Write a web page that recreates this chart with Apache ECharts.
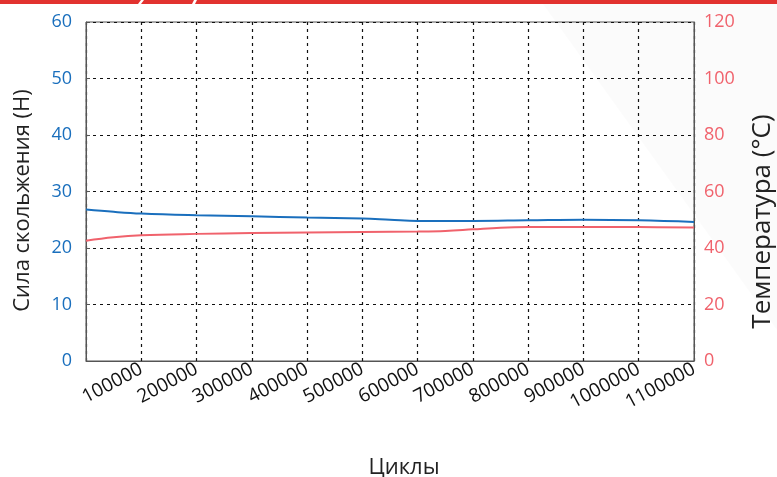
<!DOCTYPE html>
<html>
<head>
<meta charset="utf-8">
<script src="https://cdn.jsdelivr.net/npm/echarts@6/dist/echarts.min.js"></script>
<style>
  html, body { margin: 0; padding: 0; background: #fff; }
  #chart { width: 777px; height: 477px; }
</style>
</head>
<body>
<div id="chart"></div>
<script>
// данные графика
var cycles = [0, 50000, 100000, 200000, 300000, 400000, 500000, 550000, 600000, 700000, 800000, 900000, 1000000, 1100000];
var force = [26.8, 26.4, 26.1, 25.8, 25.6, 25.4, 25.2, 25.0, 24.8, 24.8, 24.9, 25.0, 24.9, 24.6];

var tempCycles = [0, 50000, 100000, 200000, 300000, 400000, 500000, 600000, 650000, 700000, 750000, 800000, 900000, 1000000, 1100000];
var temperature = [42.6, 43.8, 44.5, 45.0, 45.3, 45.5, 45.7, 45.8, 46.0, 46.6, 47.2, 47.4, 47.4, 47.4, 47.3];

var forceTicks = [0, 10, 20, 30, 40, 50, 60];
var tempTicks = [0, 20, 40, 60, 80, 100, 120];

var blue = "#1a6fbd";
var red = "#f0626c";
var font = "'Open Sans', 'Noto Sans', sans-serif";

var chart = echarts.init(document.getElementById("chart"), null, { renderer: "canvas" });

function pairs(xs, ys) {
  return xs.map(function (x, i) { return [x, ys[i]]; });
}

var option = {
  animation: false,
  backgroundColor: "#fff",
  graphic: [
    // светлая диагональная подложка справа
    {
      type: "polygon",
      z: -10,
      shape: { points: [[540, 0], [777, 0], [777, 330]] },
      style: { fill: "rgba(0,0,0,0.015)" }
    },
    // красная полоса сверху
    {
      type: "polygon",
      shape: { points: [[0, 0], [141, 0], [138, 4], [0, 4]] },
      style: { fill: "#e2322f" }
    },
    {
      type: "polygon",
      shape: { points: [[144, 0], [194, 0], [192, 4], [141, 4]] },
      style: { fill: "#e2322f" }
    },
    {
      type: "polygon",
      shape: { points: [[197, 0], [777, 0], [777, 4], [195, 4]] },
      style: { fill: "#e2322f" }
    }
  ],
  grid: {
    left: 86,
    right: 83,
    top: 22,
    bottom: 116,
    outerBoundsMode: "none",
    containLabel: false,
    show: true,
    borderColor: "#555",
    borderWidth: 1,
    backgroundColor: "transparent"
  },
  xAxis: {
    type: "value",
    min: 0,
    max: 1100000,
    interval: 100000,
    name: "Циклы",
    nameLocation: "middle",
    nameGap: 96,
    nameTextStyle: { color: "#222", fontSize: 22, fontFamily: font, padding: [0, 0, 0, 28] },
    axisLine: { show: true, lineStyle: { color: "#555" } },
    axisTick: { show: false },
    axisLabel: {
      rotate: 28,
      color: "#111",
      fontSize: 19,
      fontFamily: font,
      margin: 7,
      formatter: function (v) { return v === 0 ? "" : String(v); }
    },
    splitLine: { show: true, lineStyle: { color: "#111", type: [3, 4], width: 1.2 } }
  },
  yAxis: [
    {
      type: "value",
      min: 0,
      max: 60,
      interval: 10,
      position: "left",
      name: "Сила скольжения (Н)",
      nameLocation: "middle",
      nameGap: 52,
      nameTextStyle: { color: "#222", fontSize: 22, fontFamily: font, padding: [0, 18, 0, 0] },
      axisLine: { show: true, lineStyle: { color: "#555" } },
      axisTick: { show: true, inside: true, length: 4, lineStyle: { color: "#555" } },
      axisLabel: {
        color: blue,
        fontSize: 18,
        fontFamily: font,
        margin: 14,
        customValues: forceTicks
      },
      splitLine: { show: true, lineStyle: { color: "#111", type: [3, 4], width: 1.2 } }
    },
    {
      type: "value",
      min: 0,
      max: 120,
      interval: 20,
      position: "right",
      name: "Температура (°C)",
      nameLocation: "middle",
      nameGap: 56,
      nameRotate: 90,
      nameTextStyle: { color: "#222", fontSize: 26, fontFamily: font, padding: [0, 60, 0, 0] },
      axisLine: { show: true, lineStyle: { color: "#555" } },
      axisTick: { show: false },
      axisLabel: {
        color: red,
        fontSize: 18,
        fontFamily: font,
        margin: 10,
        customValues: tempTicks
      },
      splitLine: { show: false }
    }
  ],
  series: [
    {
      name: "Сила скольжения",
      type: "line",
      yAxisIndex: 0,
      smooth: 0.4,
      showSymbol: false,
      data: pairs(cycles, force),
      lineStyle: { color: blue, width: 2 },
      z: 3
    },
    {
      name: "Температура",
      type: "line",
      yAxisIndex: 1,
      smooth: 0.4,
      showSymbol: false,
      data: pairs(tempCycles, temperature),
      lineStyle: { color: red, width: 2 },
      z: 3
    }
  ]
};

chart.setOption(option);
</script>
</body>
</html>
